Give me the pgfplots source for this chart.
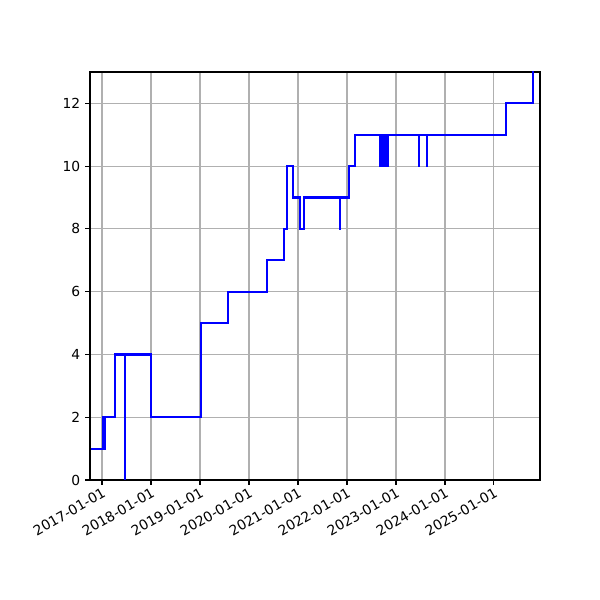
\documentclass[border=0pt]{standalone}
\usepackage{fontspec}
\setmainfont{DejaVu Sans}
\usepackage{pgfplots}
\pgfplotsset{compat=1.18}
\begin{document}
\begin{tikzpicture}
\begin{axis}[
  scale only axis,
  width=4.5in, height=4.08in,
  xmin=2016.755, xmax=2025.94,
  ymin=0, ymax=13,
  xtick={2017,2018,2019,2020,2021,2022,2023,2024,2025},
  xticklabels={2017-01-01,2018-01-01,2019-01-01,2020-01-01,2021-01-01,2022-01-01,2023-01-01,2024-01-01,2025-01-01},
  ytick={0,2,4,6,8,10,12},
  xticklabel style={rotate=30, anchor=north east, inner sep=1pt, font=\fontsize{10}{12}\selectfont},
  yticklabel style={font=\fontsize{10}{12}\selectfont},
  /pgf/number format/assume math mode=true,
  tick pos=left,
  tick align=outside,
  major tick length=3.5bp,
  tick style={black, line width=0.8bp},
  axis line style={line width=0.8bp},
  grid=major,
  grid style={color=black!31, line width=0.8bp},
  axis on top=false,
]
\addplot[const plot, color=blue, line width=1.5bp] coordinates {
(2016.769,1)
(2017.020,2)(2017.030,1)(2017.040,2)(2017.048,1)(2017.055,2)
(2017.273,4)
(2017.463,0)(2017.4631,4)
(2018.008,2)
(2019.024,5)
(2019.565,6)
(2020.367,7)
(2020.714,8)
(2020.776,10)
(2020.898,9)
(2021.035,8)
(2021.122,9)
(2021.851,8)(2021.8511,9)
(2022.039,10)
(2022.157,11)
(2022.682,10)(2022.700,11)(2022.712,10)(2022.730,11)(2022.745,10)(2022.765,11)(2022.778,10)(2022.800,11)(2022.812,10)(2022.837,11)
(2023.463,10)(2023.4631,11)
(2023.633,10)(2023.6331,11)
(2025.253,12)
(2025.796,14)(2025.80,14)
};
\end{axis}
\path (current axis.south west) ++(-0.9in,-1.2in) rectangle ++(6in,6in);
\end{tikzpicture}
\end{document}
